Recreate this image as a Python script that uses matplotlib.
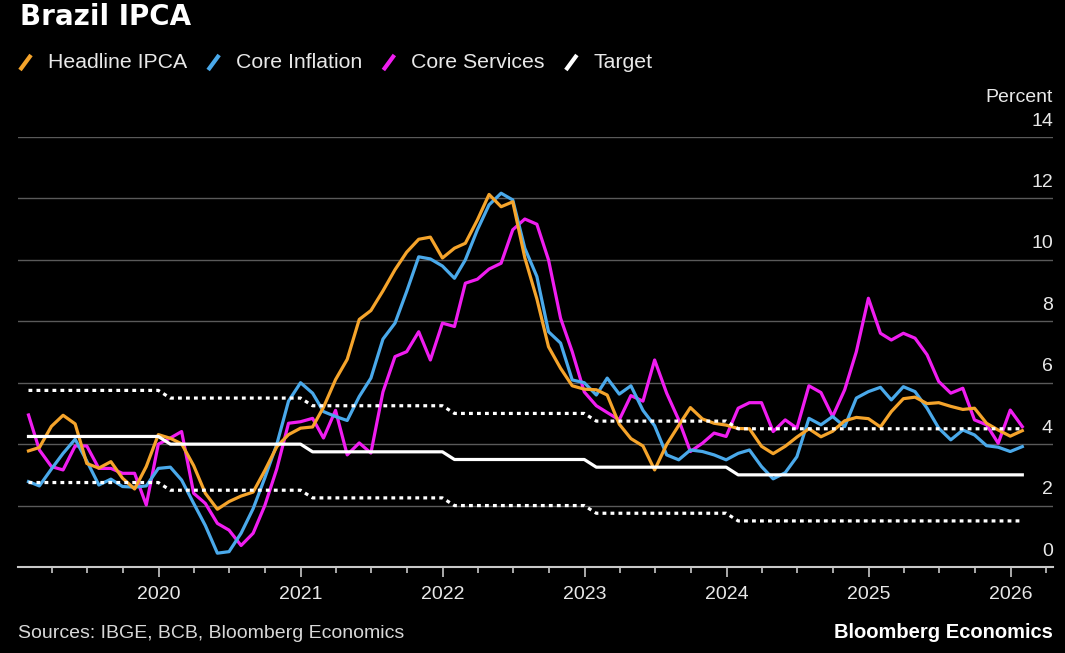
import matplotlib
matplotlib.use('Agg')
import matplotlib.pyplot as plt
import matplotlib.dates as mdates
from matplotlib.lines import Line2D
import pandas as pd

# ---------------- data ----------------
months = pd.date_range('2019-01-31', periods=85, freq='ME')

headline_ipca = [
    3.78, 3.89, 4.58, 4.94, 4.66, 3.37, 3.22, 3.43, 2.89, 2.54, 3.27, 4.31,
    4.19, 4.01, 3.30, 2.40, 1.88, 2.13, 2.31, 2.44, 3.14, 3.92, 4.31, 4.52,
    4.56, 5.20, 6.10, 6.76, 8.06, 8.35, 8.99, 9.68, 10.25, 10.67, 10.74, 10.06,
    10.38, 10.54, 11.30, 12.13, 11.73, 11.89, 10.07, 8.73, 7.17, 6.47, 5.90, 5.79,
    5.77, 5.60, 4.65, 4.18, 3.94, 3.16, 3.99, 4.61, 5.19, 4.82, 4.68, 4.62,
    4.51, 4.50, 3.93, 3.69, 3.93, 4.23, 4.50, 4.24, 4.42, 4.76, 4.87, 4.83,
    4.56, 5.06, 5.48, 5.53, 5.32, 5.35, 5.23, 5.13, 5.17, 4.68, 4.46, 4.26,
    4.44]

core_inflation = [
    2.78, 2.64, 3.19, 3.70, 4.16, 3.45, 2.67, 2.86, 2.62, 2.60, 2.64, 3.21,
    3.25, 2.83, 2.07, 1.35, 0.45, 0.50, 1.10, 1.90, 2.90, 4.00, 5.40, 6.00,
    5.66, 5.06, 4.90, 4.77, 5.55, 6.15, 7.42, 7.94, 8.97, 10.10, 10.03, 9.80,
    9.40, 10.00, 10.98, 11.79, 12.17, 11.95, 10.38, 9.46, 7.66, 7.29, 6.09, 6.00,
    5.60, 6.15, 5.63, 5.90, 5.10, 4.60, 3.65, 3.49, 3.81, 3.76, 3.65, 3.49,
    3.70, 3.81, 3.27, 2.87, 3.07, 3.59, 4.84, 4.63, 4.90, 4.57, 5.50, 5.71,
    5.85, 5.44, 5.87, 5.71, 5.17, 4.52, 4.14, 4.46, 4.30, 3.95, 3.90, 3.76,
    3.92]

core_services = [
    4.95, 3.81, 3.27, 3.16, 3.94, 3.94, 3.21, 3.21, 3.05, 3.05, 2.02, 4.00,
    4.20, 4.41, 2.40, 2.07, 1.42, 1.20, 0.70, 1.10, 2.00, 3.20, 4.68, 4.73,
    4.84, 4.20, 5.10, 3.65, 4.04, 3.71, 5.70, 6.85, 7.01, 7.66, 6.74, 7.94,
    7.83, 9.24, 9.37, 9.70, 9.89, 10.98, 11.33, 11.16, 10.00, 8.10, 7.01, 5.70,
    5.25, 5.03, 4.79, 5.58, 5.40, 6.74, 5.66, 4.79, 3.76, 4.03, 4.36, 4.25,
    5.17, 5.35, 5.35, 4.41, 4.79, 4.52, 5.90, 5.68, 4.90, 5.77, 7.01, 8.75,
    7.61, 7.39, 7.61, 7.45, 6.91, 6.04, 5.66, 5.82, 4.79, 4.63, 4.03, 5.11,
    4.57]

target_years = [2019, 2020, 2021, 2022, 2023, 2024, 2025, 2026]
target_values = [4.25, 4.00, 3.75, 3.50, 3.25, 3.00, 3.00, 3.00]
tolerance = 1.5

target = [target_values[target_years.index(d.year)] for d in months]
upper_band = [t + tolerance for t in target]
lower_band = [t - tolerance for t in target]

y_ticks = [0, 2, 4, 6, 8, 10, 12, 14]
x_tick_years = [2020, 2021, 2022, 2023, 2024, 2025, 2026]

series_names = ['Headline IPCA', 'Core Inflation', 'Core Services', 'Target']

# ---------------- style ----------------
W, H = 1065, 653
ORANGE = '#F5A42B'
BLUE = '#4AA9EA'
MAGENTA = '#F01DF0'
WHITE = '#FFFFFF'
GRID = '#5A5A5A'
AXIS = '#C8C8C8'
TXT = '#E8E8E8'
FONT = ['Liberation Sans', 'DejaVu Sans']
plt.rcParams['font.family'] = FONT

fig = plt.figure(figsize=(W / 100, H / 100), dpi=100, facecolor='black')
ax = fig.add_axes([18 / W, (H - 567) / H, (1053 - 18) / W, (567 - 137) / H])
ax.set_facecolor('black')

LW = 2.3
ax.plot(months, headline_ipca, color=ORANGE, lw=LW, zorder=4)
ax.plot(months, core_inflation, color=BLUE, lw=LW, zorder=3)
ax.plot(months, core_services, color=MAGENTA, lw=LW, zorder=2)
ax.plot(months, target, color=WHITE, lw=LW, zorder=5)
ax.plot(months, upper_band, color=WHITE, lw=LW, zorder=5, dashes=(1.2, 1.3))
ax.plot(months, lower_band, color=WHITE, lw=LW, zorder=5, dashes=(1.2, 1.3))

ax.set_ylim(0, 14)
ax.set_xlim(pd.Timestamp('2019-01-04'), pd.Timestamp('2026-04-20'))

ax.set_yticks(y_ticks)
ax.yaxis.grid(True, color=GRID, lw=1.0, zorder=0)
ax.tick_params(axis='y', left=False, right=False, labelleft=False, labelright=False)
for v in y_ticks:
    ax.annotate(str(v), xy=(1, v), xycoords=('axes fraction', 'data'),
                xytext=(0, 11.5), textcoords='offset points', ha='right', va='center',
                color=TXT, fontsize=14, annotation_clip=False)
ax.annotate('Percent', xy=(1, 14), xycoords=('axes fraction', 'data'),
            xytext=(0, 28.5), textcoords='offset points', ha='right', va='center',
            color=TXT, fontsize=14, annotation_clip=False)

for s in ['top', 'left', 'right']:
    ax.spines[s].set_visible(False)
ax.spines['bottom'].set_color(AXIS)
ax.spines['bottom'].set_linewidth(1.5)
ax.spines['bottom'].set_zorder(6)

ax.set_xticks([pd.Timestamp(f'{y}-01-01') for y in x_tick_years])
ax.set_xticklabels([str(y) for y in x_tick_years])
ax.xaxis.set_minor_locator(mdates.MonthLocator(bymonth=[1, 4, 7, 10]))
ax.tick_params(axis='x', which='major', length=7, width=1.2, color=AXIS,
               labelcolor=TXT, labelsize=14, pad=6.5)
ax.tick_params(axis='x', which='minor', length=4, width=1.2, color=AXIS)

# title
fig.text(20 / W, 1 - 17 / H, 'Brazil IPCA', color='white', fontsize=20,
         fontweight='bold', family=['DejaVu Sans'], ha='left', va='center')

# legend (manual, slash markers)
colors = [ORANGE, BLUE, MAGENTA, WHITE]
fig.canvas.draw()
renderer = fig.canvas.get_renderer()
x = 20
yc = 62
for name, c in zip(series_names, colors):
    fig.add_artist(Line2D([x / W, (x + 11) / W], [1 - (yc + 8) / H, 1 - (yc - 7) / H],
                          color=c, lw=3.0, transform=fig.transFigure,
                          solid_capstyle='butt'))
    t = fig.text((x + 28) / W, 1 - yc / H, name, color=TXT, fontsize=15.3,
                 ha='left', va='center')
    bb = t.get_window_extent(renderer)
    x = bb.x1 + 21

# footer
fig.text(18 / W, 1 - 633 / H, 'Sources: IBGE, BCB, Bloomberg Economics', color='#D8D8D8',
         fontsize=14, ha='left', va='center')
fig.text(1053 / W, 1 - 633 / H, 'Bloomberg Economics', color='white', fontsize=14.5,
         fontweight='bold', ha='right', va='center')

fig.savefig('out.png', dpi=100, facecolor='black')
